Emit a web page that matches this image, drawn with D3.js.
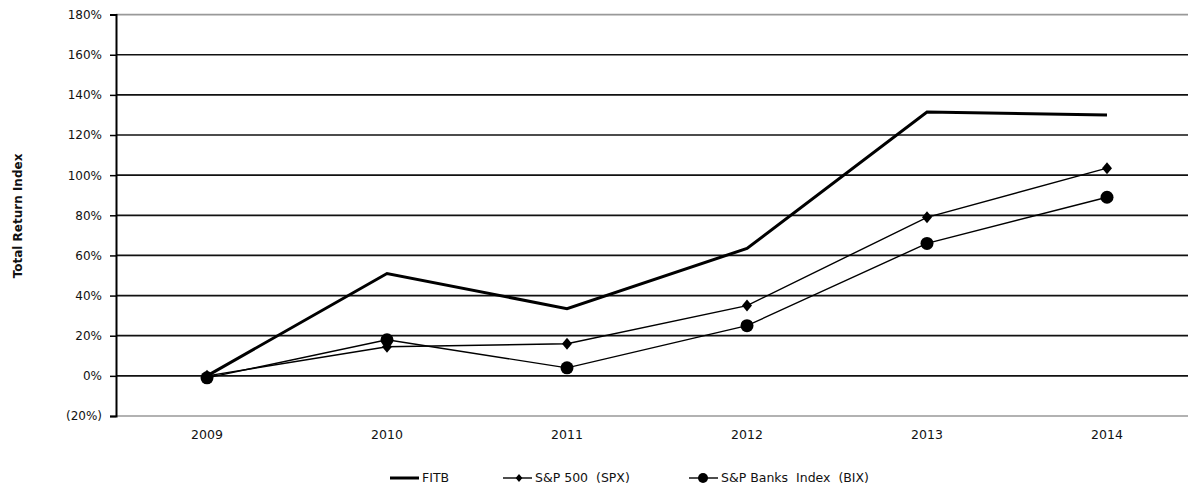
<!DOCTYPE html>
<html>
<head>
<meta charset="utf-8">
<script src="https://cdnjs.cloudflare.com/ajax/libs/d3/7.8.5/d3.min.js"></script>
<style>
  body { margin: 0; background: #fff; }
  text { font-family: "DejaVu Sans", Arial, sans-serif; fill: #111; }
</style>
</head>
<body>
<script>
var years = ["2009", "2010", "2011", "2012", "2013", "2014"];
var fitb = [0, 51, 33.5, 63.5, 131.5, 130];
var spx = [0, 14.5, 16, 35, 79, 103.5];
var bix = [-1, 18, 4, 25, 66, 89];
var yTicks = [-20, 0, 20, 40, 60, 80, 100, 120, 140, 160, 180];
var legendNames = ["FITB", "S&P 500  (SPX)", "S&P Banks  Index  (BIX)"];

var w = 1188;
var h = 492;

var svg = d3.select("body")
            .append("svg")
            .attr("width", w)
            .attr("height", h);

var x = d3.scaleBand()
          .domain(years)
          .range([117, 1197]);

var y = d3.scaleLinear()
          .domain([-20, 180])
          .range([416, 14.6]);

function xc(d, i) { return x(years[i]) + x.bandwidth() / 2; }

function pctLabel(d) {
  if (d < 0) { return "(" + Math.abs(d) + "%)"; }
  return d + "%";
}

// gridlines
svg.selectAll("line.grid")
   .data(yTicks)
   .enter()
   .append("line")
   .attr("class", "grid")
   .attr("x1", 116)
   .attr("x2", w)
   .attr("y1", function(d) { return y(d); })
   .attr("y2", function(d) { return y(d); })
   .attr("stroke", function(d) {
     if (d == -20 || d == 180) { return "#999"; }
     return "#111";
   })
   .attr("stroke-width", 1.7);

// y axis
var yAxis = d3.axisLeft(y)
              .tickValues(yTicks)
              .tickFormat(pctLabel)
              .tickSize(6)
              .tickPadding(8);

var gy = svg.append("g")
            .attr("transform", "translate(116,0)")
            .call(yAxis);
gy.select(".domain").attr("stroke", "#000").attr("stroke-width", 2);
gy.selectAll(".tick line").attr("stroke", "#000").attr("stroke-width", 1.5);
gy.selectAll(".tick text")
  .attr("font-size", 12)
  .attr("font-family", "DejaVu Sans, Arial, sans-serif")
  .attr("fill", "#111");

// x labels
var xAxis = d3.axisBottom(x).tickSize(0).tickPadding(0);
var gx = svg.append("g")
            .attr("transform", "translate(0,430)")
            .call(xAxis);
gx.select(".domain").remove();
gx.selectAll(".tick text")
  .attr("font-size", 12.5)
  .attr("font-family", "DejaVu Sans, Arial, sans-serif")
  .attr("fill", "#111");

// axis title
svg.append("text")
   .attr("transform", "translate(22,216) rotate(-90)")
   .attr("text-anchor", "middle")
   .attr("font-size", 12)
   .attr("font-weight", "bold")
   .attr("font-family", "Liberation Sans, Arial, sans-serif")
   .text("Total Return Index");

var line = d3.line()
             .x(xc)
             .y(function(d) { return y(d); });

svg.append("path")
   .datum(fitb)
   .attr("d", line)
   .attr("fill", "none")
   .attr("stroke", "#000")
   .attr("stroke-width", 3);

svg.append("path")
   .datum(spx)
   .attr("d", line)
   .attr("fill", "none")
   .attr("stroke", "#000")
   .attr("stroke-width", 1.4);

svg.append("path")
   .datum(bix)
   .attr("d", line)
   .attr("fill", "none")
   .attr("stroke", "#000")
   .attr("stroke-width", 1.4);

// diamond = square turned 45 degrees, stretched a little vertically
var square = d3.symbol().type(d3.symbolSquare).size(50);

svg.selectAll("path.spx")
   .data(spx)
   .enter()
   .append("path")
   .attr("class", "spx")
   .attr("d", square)
   .attr("transform", function(d, i) {
     return "translate(" + xc(d, i) + "," + y(d) + ") scale(1,1.2) rotate(45)";
   })
   .attr("fill", "#000");

svg.selectAll("circle.bix")
   .data(bix)
   .enter()
   .append("circle")
   .attr("class", "bix")
   .attr("cx", xc)
   .attr("cy", function(d) { return y(d); })
   .attr("r", 6.5)
   .attr("fill", "#000");

// legend
var legendX = [390, 503, 689];
var legend = svg.selectAll("g.legend")
                .data(legendNames)
                .enter()
                .append("g")
                .attr("class", "legend")
                .attr("transform", function(d, i) { return "translate(" + legendX[i] + ",478)"; });

legend.append("line")
      .attr("x1", 0)
      .attr("x2", 29)
      .attr("stroke", "#000")
      .attr("stroke-width", function(d, i) { return i == 0 ? 3 : 1.4; });

legend.filter(function(d, i) { return i == 1; })
      .append("path")
      .attr("d", d3.symbol().type(d3.symbolSquare).size(22))
      .attr("transform", "translate(16,0) scale(1,1.2) rotate(45)")
      .attr("fill", "#000");

legend.filter(function(d, i) { return i == 2; })
      .append("circle")
      .attr("cx", 14)
      .attr("r", 5)
      .attr("fill", "#000");

legend.append("text")
      .attr("x", 32)
      .attr("dy", "0.35em")
      .attr("font-size", 12.5)
      .style("white-space", "pre")
      .text(function(d) { return d; });
</script>
</body>
</html>
